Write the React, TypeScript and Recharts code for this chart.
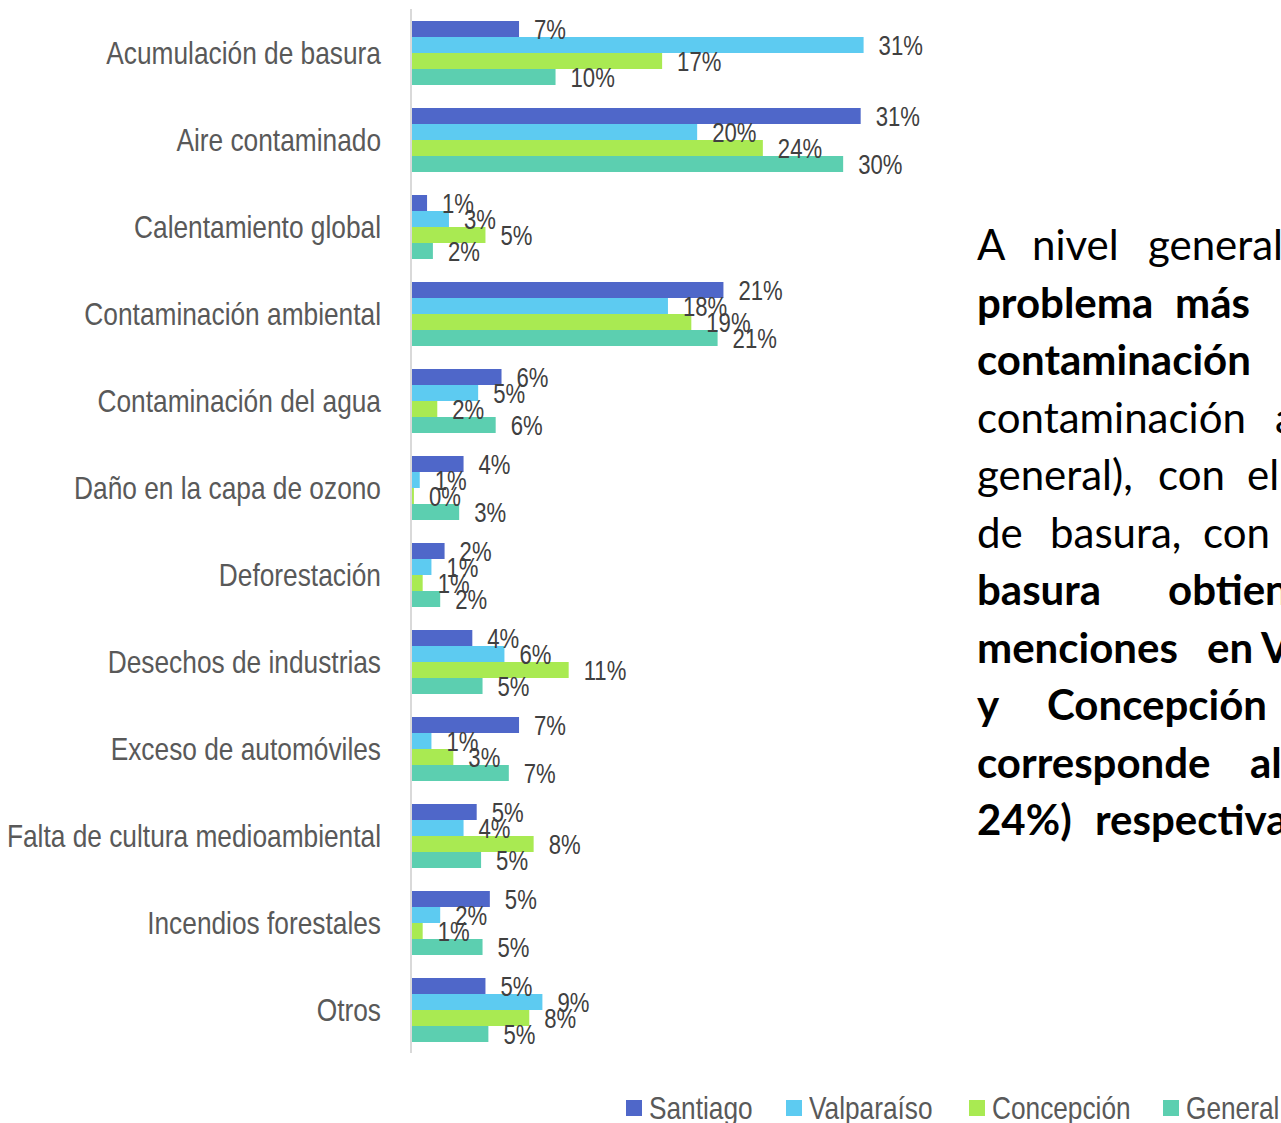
import React from 'react';
import { BarChart, Bar, XAxis, YAxis, LabelList } from 'recharts';

const categories = [
    'Acumulación de basura',
    'Aire contaminado',
    'Calentamiento global',
    'Contaminación ambiental',
    'Contaminación del agua',
    'Daño en la capa de ozono',
    'Deforestación',
    'Desechos de industrias',
    'Exceso de automóviles',
    'Falta de cultura medioambiental',
    'Incendios forestales',
    'Otros',
];

const santiago = [7.4, 30.8, 1.1, 21.4, 6.2, 3.6, 2.3, 4.2, 7.4, 4.5, 5.4, 5.1];
const valparaiso = [31.0, 19.6, 2.6, 17.6, 4.6, 0.6, 1.4, 6.4, 1.4, 3.6, 2.0, 9.0];
const concepcion = [17.2, 24.1, 5.1, 19.2, 1.8, 0.2, 0.8, 10.8, 2.9, 8.4, 0.8, 8.1];
const general = [9.9, 29.6, 1.5, 21.0, 5.8, 3.3, 2.0, 4.9, 6.7, 4.8, 4.9, 5.3];

const seriesNames = ['Santiago', 'Valparaíso', 'Concepción', 'General'];
const seriesColors = ['#4f67c9', '#5dcbf1', '#a9ea52', '#5ccfb0'];
const legendX = [626, 786, 969, 1163];

// texto a la derecha, cortado por el borde de la imagen
const textLines = [
    { bold: false, words: [['A', 0], ['nivel', 55], ['general', 171]] },
    { bold: true, words: [['problema', 0], ['más', 198]] },
    { bold: true, words: [['contaminación', 0]] },
    { bold: false, words: [['contaminación', 0], ['ambiental', 298]] },
    { bold: false, words: [['general),', 0], ['con', 181], ['el', 270]] },
    { bold: false, words: [['de', 0], ['basura,', 73], ['con', 226]] },
    { bold: true, words: [['basura', 0], ['obtiene', 191]] },
    { bold: true, words: [['menciones', 0], ['en', 230], ['Valparaíso', 284]] },
    { bold: true, words: [['y', 0], ['Concepción', 70]] },
    { bold: true, words: [['corresponde', 0], ['al', 273]] },
    { bold: true, words: [['24%)', 0], ['respectivamente', 118]] },
];

const chartData = categories.map((name, i) => ({
    name,
    Santiago: santiago[i],
    'Valparaíso': valparaiso[i],
    'Concepción': concepcion[i],
    General: general[i],
}));

const sans = "'Liberation Sans', Arial, sans-serif";
const squeeze = 0.82; // imita Arial Narrow

const CategoryTick = (props: any) => {
    const { x, y, payload } = props;
    return (
        <g transform={`translate(${x},${y}) scale(0.835,1)`}>
            <text textAnchor="end" dy="0.36em" fontSize={31.5} fill="#595959" fontFamily={sans}>
                {payload.value}
            </text>
        </g>
    );
};

const ValueLabel = (props: any) => {
    const { x, y, width, height, value } = props;
    const lx = Number(x) + Number(width) + 15;
    const ly = Number(y) + Number(height) / 2;
    return (
        <g transform={`translate(${lx},${ly}) scale(${squeeze},1)`}>
            <text dy="0.36em" fontSize={27} fill="#404040" fontFamily={sans}>
                {`${Math.round(Number(value))}%`}
            </text>
        </g>
    );
};

const App: React.FC = () => {
    return (
        <div style={{ position: 'absolute', left: 0, top: 0, width: 1281, height: 1123, overflow: 'hidden', background: '#fff' }}>
            <BarChart
                width={1281}
                height={1123}
                layout="vertical"
                data={chartData}
                barSize={16}
                barGap={0}
                margin={{ top: 9, right: 359, left: 0, bottom: 70 }}
            >
                <XAxis type="number" domain={[0, 35]} hide />
                <YAxis
                    type="category"
                    dataKey="name"
                    width={411}
                    tickLine={false}
                    tickSize={0}
                    tickMargin={30}
                    axisLine={{ stroke: '#d9d9d9', strokeWidth: 2 }}
                    tick={<CategoryTick />}
                    interval={0}
                />
                {seriesNames.map((s, i) => (
                    <Bar key={s} dataKey={s} fill={seriesColors[i]} isAnimationActive={false}>
                        <LabelList dataKey={s} content={<ValueLabel />} />
                    </Bar>
                ))}
            </BarChart>

            {seriesNames.map((s, i) => (
                <div key={s} style={{ position: 'absolute', left: legendX[i], top: 1088, height: 40, display: 'flex', alignItems: 'center', whiteSpace: 'nowrap' }}>
                    <span style={{ display: 'inline-block', width: 16, height: 16, background: seriesColors[i], marginRight: 7 }} />
                    <span style={{ display: 'inline-block', fontFamily: sans, fontSize: 32, color: '#595959', transform: `scaleX(${squeeze})`, transformOrigin: 'left center' }}>{s}</span>
                </div>
            ))}

            <div style={{ position: 'absolute', left: 977, top: 216, fontFamily: 'Lato, sans-serif', fontSize: 42, color: '#000' }}>
                {textLines.map((line, i) => (
                    <div key={i} style={{ position: 'relative', height: 57.5, lineHeight: '57.5px', fontWeight: line.bold ? 700 : 400 }}>
                        {line.words.map(([w, x]) => (
                            <span key={String(w) + x} style={{ position: 'absolute', left: x as number, top: 0, whiteSpace: 'nowrap' }}>{w}</span>
                        ))}
                    </div>
                ))}
            </div>
        </div>
    );
};

export default App;
